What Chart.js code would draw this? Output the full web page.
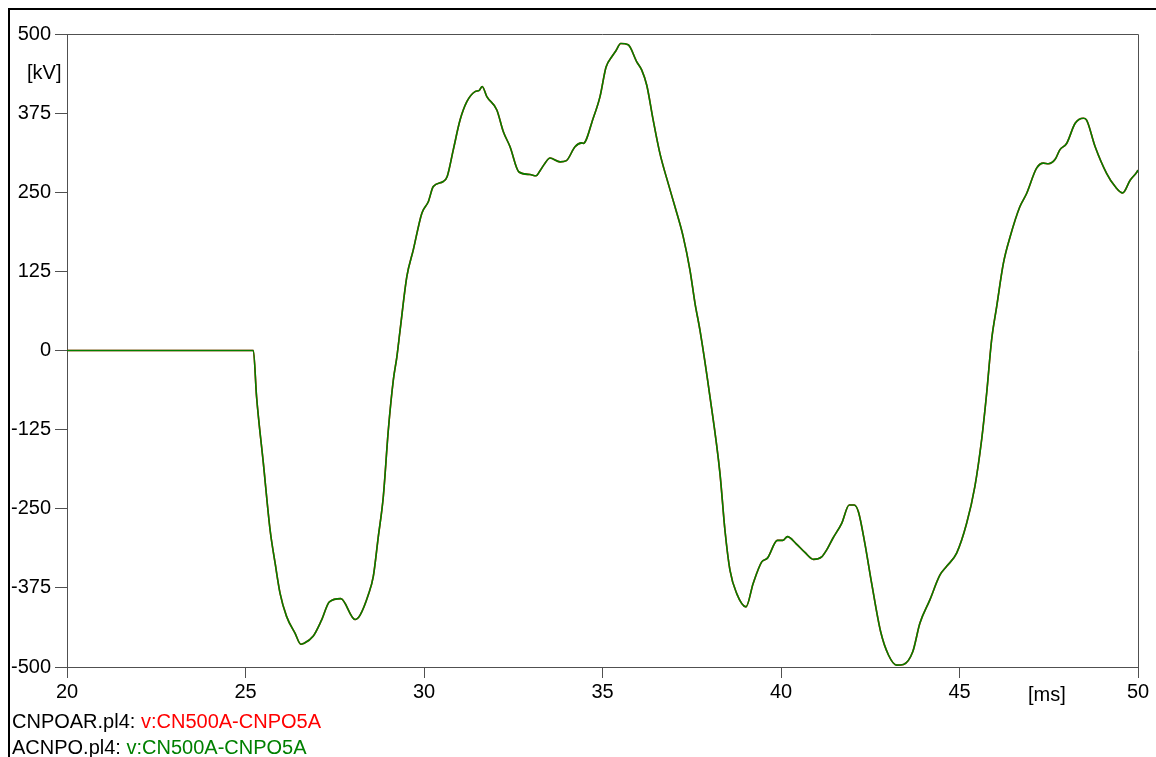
<!DOCTYPE html>
<html>
<head>
<meta charset="utf-8">
<script src="https://cdn.jsdelivr.net/npm/chart.js@4/dist/chart.umd.min.js"></script>
<style>
  html, body { margin: 0; padding: 0; background: #fff; overflow: hidden; }
  body { width: 1156px; height: 757px; position: relative; font-family: "Liberation Sans", Arial, Helvetica, sans-serif; }
  #wrap { position: absolute; left: 0; top: 0; width: 1156px; height: 757px; }
  #frame { position: absolute; left: 8px; top: 8px; width: 2000px; height: 2000px; border-top: 2px solid #000; border-left: 2px solid #000; box-sizing: border-box; pointer-events: none; }
  .lbl { position: absolute; font-size: 20px; line-height: 20px; color: #000; white-space: nowrap; }
</style>
</head>
<body>
<div id="wrap"><canvas id="c" width="1156" height="757"></canvas></div>
<div id="frame"></div>
<div class="lbl" id="unitY" style="left:27px; top:62px;">[kV]</div>
<div class="lbl" id="unitX" style="left:1028px; top:684px;">[ms]</div>
<div class="lbl" id="leg1" style="left:12px; top:711px;">CNPOAR.pl4: <span style="color:#ff0000">v:CN500A-CNPO5A</span></div>
<div class="lbl" id="leg2" style="left:12px; top:737px;">ACNPO.pl4: <span style="color:#008000">v:CN500A-CNPO5A</span></div>
<script>
// time axis values [ms]
const timeMs = [20, 25.22, 25.31, 25.5, 25.69, 25.83, 25.97, 26.15, 26.39, 26.55, 26.62, 26.9, 27.13, 27.35, 27.67, 28.07, 28.21, 28.44, 28.58, 28.72, 28.86, 29.0, 29.14, 29.24, 29.33, 29.52, 29.7, 29.94, 30.12, 30.26, 30.54, 30.65, 30.82, 31.01, 31.2, 31.43, 31.55, 31.63, 31.76, 32.04, 32.22, 32.41, 32.66, 32.97, 33.14, 33.25, 33.39, 33.53, 33.81, 33.99, 34.23, 34.42, 34.46, 34.74, 34.93, 35.1, 35.26, 35.38, 35.51, 35.72, 35.96, 36.1, 36.24, 36.42, 36.61, 36.84, 37.03, 37.26, 37.45, 37.59, 37.73, 38.01, 38.29, 38.43, 38.57, 38.76, 39.02, 39.22, 39.46, 39.62, 39.9, 40.05, 40.18, 40.42, 40.67, 40.91, 41.14, 41.28, 41.45, 41.7, 41.91, 42.05, 42.17, 42.35, 42.54, 42.79, 43.01, 43.24, 43.43, 43.69, 43.89, 44.17, 44.45, 44.64, 44.92, 45.2, 45.43, 45.62, 45.76, 45.9, 46.04, 46.23, 46.42, 46.69, 46.88, 47.16, 47.35, 47.49, 47.68, 47.81, 48.0, 48.24, 48.47, 48.56, 48.8, 49.12, 49.36, 49.57, 49.78, 49.97, 50];
// CNPOAR.pl4 v:CN500A-CNPO5A [kV] (red)
const voltRed = [0, 0, -73, -178, -284, -336, -384, -420, -447, -464, -463, -451, -426, -397, -392, -425, -418, -386, -357, -294, -231, -126, -47, -10, 32, 117, 159, 217, 235, 259, 267, 275, 317, 364, 393, 409, 411, 417, 401, 380, 346, 322, 282, 278, 276, 284, 296, 304, 298, 300, 322, 328, 327, 367, 401, 448, 464, 474, 485, 483, 456, 443, 419, 364, 311, 264, 227, 180, 127, 75, 32, -73, -194, -284, -347, -384, -405, -368, -334, -328, -300, -300, -294, -305, -319, -330, -326, -315, -297, -273, -244, -244, -255, -305, -368, -444, -481, -497, -496, -476, -431, -394, -355, -341, -320, -273, -215, -141, -68, 17, 69, 138, 180, 227, 248, 288, 296, 295, 302, 317, 327, 359, 367, 364, 322, 280, 259, 249, 269, 282, 285];
// ACNPO.pl4 v:CN500A-CNPO5A [kV] (green)
const voltGreen = [0, 0, -73, -178, -284, -336, -384, -420, -447, -464, -463, -451, -426, -397, -392, -425, -418, -386, -357, -294, -231, -126, -47, -10, 32, 117, 159, 217, 235, 259, 267, 275, 317, 364, 393, 409, 411, 417, 401, 380, 346, 322, 282, 278, 276, 284, 296, 304, 298, 300, 322, 328, 327, 367, 401, 448, 464, 474, 485, 483, 456, 443, 419, 364, 311, 264, 227, 180, 127, 75, 32, -73, -194, -284, -347, -384, -405, -368, -334, -328, -300, -300, -294, -305, -319, -330, -326, -315, -297, -273, -244, -244, -255, -305, -368, -444, -481, -497, -496, -476, -431, -394, -355, -341, -320, -273, -215, -141, -68, 17, 69, 138, 180, 227, 248, 288, 296, 295, 302, 317, 327, 359, 367, 364, 322, 280, 259, 249, 269, 282, 285];
// axis ticks
const xTicks = [20, 25, 30, 35, 40, 45, 50];
const yTicks = [-500, -375, -250, -125, 0, 125, 250, 375, 500];

const toPts = (ys) => timeMs.map((t, i) => ({ x: t, y: ys[i] }));
const AXIS = '#505050';
const FONT = { family: '"Liberation Sans", Arial, Helvetica, sans-serif', size: 20 };

const boxPlugin = {
  id: 'boxLines',
  afterDraw(chart) {
    const { ctx, chartArea: a } = chart;
    ctx.save();
    ctx.strokeStyle = AXIS;
    ctx.lineWidth = 1;
    ctx.beginPath();
    ctx.moveTo(a.left, Math.round(a.top) + 0.5);
    ctx.lineTo(Math.round(a.right) + 0.5, Math.round(a.top) + 0.5);
    ctx.lineTo(Math.round(a.right) + 0.5, a.bottom);
    ctx.stroke();
    ctx.restore();
  }
};

new Chart(document.getElementById('c'), {
  type: 'line',
  data: {
    datasets: [
      { label: 'ACNPO.pl4: v:CN500A-CNPO5A', data: toPts(voltGreen), borderColor: '#008000', borderWidth: 1.6, pointRadius: 0, cubicInterpolationMode: 'monotone', fill: false },
      { label: 'CNPOAR.pl4: v:CN500A-CNPO5A', data: toPts(voltRed), borderColor: '#ff0000', borderWidth: 1.6, pointRadius: 0, cubicInterpolationMode: 'monotone', fill: false }
    ]
  },
  options: {
    responsive: false,
    animation: false,
    devicePixelRatio: 1,
    layout: { padding: { left: 0, right: 18, top: 34, bottom: 0 } },
    plugins: { legend: { display: false }, tooltip: { enabled: false }, title: { display: false } },
    scales: {
      x: {
        type: 'linear', min: 20, max: 50,
        afterBuildTicks: (s) => { s.ticks = xTicks.map(v => ({ value: v })); },
        afterFit: (s) => { s.height = 90; },
        grid: { display: true, drawOnChartArea: false, drawTicks: true, tickLength: 11, color: AXIS, lineWidth: 1 },
        border: { display: true, color: AXIS, width: 1 },
        ticks: { color: '#000', font: FONT, padding: 2, maxRotation: 0, autoSkip: false }
      },
      y: {
        type: 'linear', min: -500, max: 500,
        afterBuildTicks: (s) => { s.ticks = yTicks.map(v => ({ value: v })); },
        afterFit: (s) => { s.width = 67; },
        grid: { display: true, drawOnChartArea: false, drawTicks: true, tickLength: 12, color: AXIS, lineWidth: 1 },
        border: { display: true, color: AXIS, width: 1 },
        ticks: { color: '#000', font: FONT, padding: 4, autoSkip: false }
      }
    }
  },
  plugins: [boxPlugin]
});
</script>
</body>
</html>
